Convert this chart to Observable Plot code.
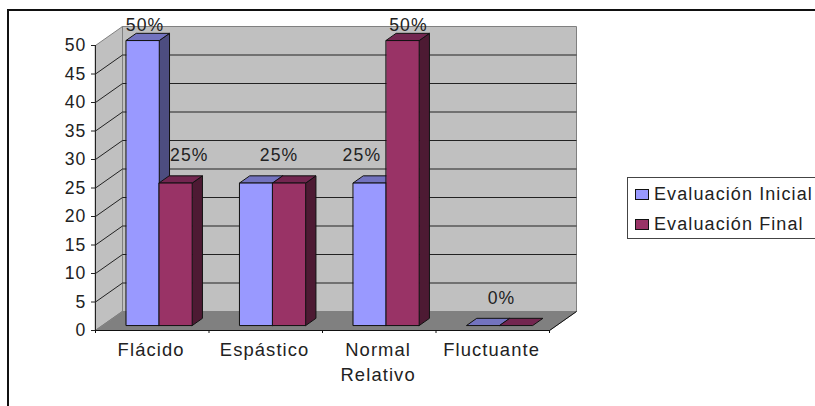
<!DOCTYPE html>
<html lang="es">
<head>
<meta charset="utf-8">
<script src="https://cdn.jsdelivr.net/npm/d3@7"></script>
<script src="https://cdn.jsdelivr.net/npm/@observablehq/plot@0.6"></script>
<style>
  html, body { margin: 0; padding: 0; background: #fff; overflow: hidden; }
  #chart { position: relative; width: 815px; height: 406px; overflow: hidden; font-family: "Liberation Sans", Arial, sans-serif; color: #222; }
  #chart svg { position: absolute; left: 0; top: 0; background: transparent; }
  #frame { position: absolute; left: 7px; top: 9px; width: 900px; height: 500px; border: 2px solid #111; }
  #legend { position: absolute; left: 627px; top: 177px; width: 300px; height: 60px; border: 1.5px solid #444; background: #fff; font-size: 18px; letter-spacing: 1.1px; }
  #legend div { position: absolute; left: 7px; white-space: nowrap; line-height: 20px; }
  #legend i { display: inline-block; width: 12px; height: 9px; border: 1px solid #111; margin-right: 5px; }
</style>
</head>
<body>
<div id="chart">
  <div id="frame"></div>
  <div id="legend"></div>
</div>
<script>
// Distribución del tono muscular, evaluación inicial y final (%)
const categories = ["Flácido", "Espástico", "Normal\nRelativo", "Fluctuante"];
const inicial = [50, 25, 25, 0];
const final = [25, 25, 50, 0];
const yTicks = [0, 5, 10, 15, 20, 25, 30, 35, 40, 45, 50];

const seriesNames = ["Evaluación Inicial", "Evaluación Final"];
const palette = [
  {front: "#9999ff", side: "#4d4d80", top: "#7373bf"},
  {front: "#993366", side: "#4d1a33", top: "#732650"}
];

// Oblique projection: depth 0 is the axis plane, depth 1 the back wall.
const depthX = 27 / 113.5;
const depthY = 19 / 5.7;
const project = (x, v, d) => ({x: x + d * depthX, y: v + d * depthY});

const quad = (...pts) => pts.map(([x, v, d]) => project(x, v, d));
const face = (pts, fill, stroke) =>
  Plot.line(pts, {x: "x", y: "y", curve: "linear-closed", fill, stroke, strokeWidth: 1});

// Bar placement inside each category and within the depth of the box.
const gap = 0.21, barWidth = 0.29, barNear = 0.26, barFar = 0.64;

function barFaces(value, cat, s) {
  const x0 = cat + gap + s * barWidth, x1 = x0 + barWidth, c = palette[s];
  const marks = [];
  if (value > 0) {
    marks.push(face(quad([x1, 0, barNear], [x1, 0, barFar], [x1, value, barFar], [x1, value, barNear]), c.side, "#111"));
  }
  marks.push(face(quad([x0, value, barNear], [x1, value, barNear], [x1, value, barFar], [x0, value, barFar]), c.top, "#111"));
  if (value > 0) {
    marks.push(face(quad([x0, 0, barNear], [x1, 0, barNear], [x1, value, barNear], [x0, value, barNear]), c.front, "#111"));
  }
  return marks;
}

// Data labels: series index, category, sideways shift (category widths) and lift (value units).
const labelled = [
  {cat: 0, s: 0, shift: 0.02, lift: 0.3},
  {cat: 0, s: 1, shift: 0.12, lift: 2.4},
  {cat: 1, s: 0, shift: 0.2, lift: 2.4},
  {cat: 2, s: 0, shift: -0.07, lift: 2.4},
  {cat: 2, s: 1, shift: 0.05, lift: 0.3},
  {cat: 3, s: 0, shift: 0.16, lift: 2.4}
];
const seriesValues = [inicial, final];
const labelRows = labelled.map(({cat, s, shift, lift}) => {
  const value = seriesValues[s][cat];
  const p = project(cat + gap + (s + 0.5) * barWidth + shift, value + lift, barNear);
  return {...p, label: `${value}%`};
});

const gridValues = yTicks.filter((v) => v > 0 && v < 50);
const axisX = d3.range(categories.length + 1);
const maxX = categories.length;

const svg = Plot.plot({
  width: 815,
  height: 406,
  marginLeft: 95,
  marginRight: 266,
  marginTop: 45,
  marginBottom: 76,
  style: {fontFamily: "'Liberation Sans', Arial, sans-serif", fontSize: "17.6px", letterSpacing: "1.1px", color: "#222", background: "transparent", overflow: "visible"},
  x: {type: "linear", domain: [0, maxX], axis: null},
  y: {type: "linear", domain: [0, 50], axis: null},
  marks: [
    // Walls and floor of the box
    face(quad([0, 0, 1], [maxX, 0, 1], [maxX, 50, 1], [0, 50, 1]), "#c0c0c0", "#808080"),
    face(quad([0, 0, 0], [0, 0, 1], [0, 50, 1], [0, 50, 0]), "#c0c0c0", "#808080"),
    face(quad([0, 0, 0], [maxX, 0, 0], [maxX, 0, 1], [0, 0, 1]), "#808080", "#808080"),

    // Gridlines run across the side wall and the back wall
    Plot.link(gridValues, {
      x1: () => project(0, 0, 0).x, x2: () => project(0, 0, 1).x,
      y1: (v) => project(0, v, 0).y, y2: (v) => project(0, v, 1).y,
      stroke: "#222", strokeWidth: 1
    }),
    Plot.link(gridValues, {
      x1: () => project(0, 0, 1).x, x2: () => project(maxX, 0, 1).x,
      y1: (v) => project(0, v, 1).y, y2: (v) => project(0, v, 1).y,
      stroke: "#222", strokeWidth: 1
    }),

    // Bars, first series behind the second
    categories.flatMap((_, i) => [...barFaces(inicial[i], i, 0), ...barFaces(final[i], i, 1)]),

    // Axes
    Plot.ruleX([0], {y1: 0, y2: 50, stroke: "#222"}),
    Plot.ruleY([0], {x1: 0, x2: maxX, stroke: "#111"}),
    Plot.link([maxX], {
      x1: (x) => project(x, 0, 0).x, x2: (x) => project(x, 0, 1).x,
      y1: () => project(0, 0, 0).y, y2: () => project(0, 0, 1).y,
      stroke: "#111"
    }),
    Plot.axisY({ticks: yTicks, tickSize: 4, tickPadding: 5, label: null, stroke: "#222", fill: "#222", tickFormat: (d) => d}),
    Plot.axisX({ticks: axisX, tickSize: 3, tickPadding: 0, label: null, tickFormat: () => "", stroke: "#111"}),
    Plot.text(categories, {
      x: (_, i) => i + 0.49, y: () => 0, text: (d) => d,
      dy: 8, lineAnchor: "top", lineHeight: 1.36, fontSize: 18.4, fill: "#222"
    }),

    // Percentage labels above the bars
    Plot.text(labelRows, {
      x: "x", y: "y", text: "label", dy: -8,
      lineAnchor: "bottom", fill: "#222"
    })
  ]
});
document.getElementById("chart").insertBefore(svg, document.getElementById("legend"));

// Legend box at the right of the plot
const legend = document.getElementById("legend");
seriesNames.forEach((name, s) => {
  const row = document.createElement("div");
  row.style.top = `${6 + s * 30}px`;
  const swatch = document.createElement("i");
  swatch.style.background = palette[s].front;
  row.append(swatch, name);
  legend.append(row);
});
</script>
</body>
</html>
